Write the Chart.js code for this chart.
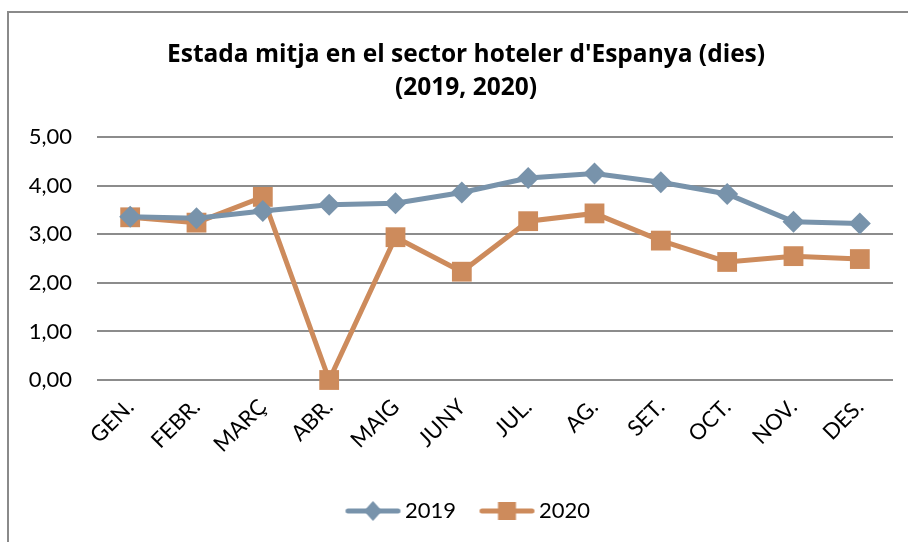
<!DOCTYPE html>
<html>
<head>
<meta charset="utf-8">
<script src="https://cdn.jsdelivr.net/npm/chart.js@4"></script>
<style>
  html, body { margin: 0; padding: 0; background: #fff; }
  #wrap { position: relative; width: 908px; height: 542px; overflow: hidden; }
  #frame { position: absolute; left: 7px; top: 11px; width: 920px; height: 560px;
           border-top: 2px solid #8a8a8a; border-left: 2px solid #8a8a8a; }
  #canvas { position: absolute; left: 0; top: 0; }
</style>
</head>
<body>
<div id="wrap">
  <div id="frame"></div>
  <canvas id="canvas" width="908" height="542"></canvas>
</div>
<script>
// Mesos
const months = ['GEN.', 'FEBR.', 'MARÇ', 'ABR.', 'MAIG', 'JUNY', 'JUL.', 'AG.', 'SET.', 'OCT.', 'NOV.', 'DES.'];
// Estada mitja (dies)
const values2019 = [3.36, 3.33, 3.48, 3.61, 3.64, 3.86, 4.16, 4.25, 4.07, 3.83, 3.26, 3.22];
const values2020 = [3.35, 3.24, 3.77, 0.00, 2.94, 2.23, 3.27, 3.43, 2.87, 2.43, 2.55, 2.49];
const titleLines = ["Estada mitja en el sector hoteler d'Espanya (dies)", '(2019, 2020)'];

const blue = '#7893ab';
const orange = '#cd8b5c';
const font = 'Lato, "Liberation Sans", sans-serif';

// icona de llegenda: línia amb marcador al mig (a la dreta de la imatge, per apropar el text)
function legendIcon(color, shape) {
    const c = document.createElement('canvas');
    c.width = 86; c.height = 24;
    const g = c.getContext('2d');
    const x0 = 29.5;
    g.strokeStyle = color;
    g.lineWidth = 5;
    g.lineCap = 'round';
    g.beginPath(); g.moveTo(x0 + 3, 12); g.lineTo(x0 + 53, 12); g.stroke();
    g.fillStyle = color;
    g.beginPath();
    if (shape === 'diamond') {
        g.moveTo(x0 + 28, 2); g.lineTo(x0 + 37, 12); g.lineTo(x0 + 28, 22); g.lineTo(x0 + 19, 12);
    } else {
        g.rect(x0 + 19, 3, 18, 18);
    }
    g.closePath(); g.fill();
    return c;
}
const icon2019 = legendIcon(blue, 'diamond');
const icon2020 = legendIcon(orange, 'square');

// el títol queda centrat una mica a la dreta, com a l'original
const titleText = titleLines.map(t => '\u00a0\u00a0\u00a0' + t);

const ctx = document.getElementById('canvas').getContext('2d');
new Chart(ctx, {
    type: 'line',
    data: {
        labels: months,
        datasets: [{
            label: '2019',
            data: values2019,
            borderColor: blue,
            backgroundColor: blue,
            borderWidth: 5,
            pointStyle: 'rectRot',
            pointRadius: 11,
            pointHoverRadius: 11,
            pointBorderWidth: 0,
            tension: 0,
            clip: false
        }, {
            label: '2020',
            data: values2020,
            borderColor: orange,
            backgroundColor: orange,
            borderWidth: 5,
            pointStyle: 'rect',
            pointRadius: 14,
            pointHoverRadius: 14,
            pointBorderWidth: 0,
            tension: 0,
            clip: false
        }]
    },
    options: {
        responsive: false,
        animation: false,
        layout: { padding: { left: 20, right: 15, top: 0, bottom: 10 } },
        plugins: {
            title: {
                display: true,
                text: titleText,
                color: '#000',
                font: { family: '"Open Sans", Lato, sans-serif', size: 24.5, weight: 'bold', lineHeight: 1.35 },
                padding: { top: 38, bottom: 33 }
            },
            legend: {
                position: 'bottom',
                labels: {
                    color: '#000',
                    font: { family: font, size: 22 },
                    usePointStyle: true,
                    pointStyleWidth: 71,
                    boxHeight: 24,
                    padding: 1,
                    generateLabels: chart => chart.data.datasets.map((ds, i) => ({
                        text: ds.label,
                        pointStyle: i === 0 ? icon2019 : icon2020,
                        fillStyle: ds.borderColor,
                        strokeStyle: ds.borderColor,
                        lineWidth: 0,
                        fontColor: '#000',
                        datasetIndex: i
                    }))
                }
            },
            tooltip: { enabled: false }
        },
        scales: {
            x: {
                offset: true,
                grid: { display: false },
                border: { display: false },
                ticks: {
                    color: '#000',
                    font: { family: font, size: 22 },
                    minRotation: 45,
                    maxRotation: 45,
                    padding: 6
                },
                afterFit: scale => { scale.height = 119; }
            },
            y: {
                min: 0,
                max: 5,
                grid: { color: '#8c8c8c', lineWidth: 2, drawTicks: false },
                border: { display: false },
                ticks: {
                    stepSize: 1,
                    color: '#000',
                    padding: 25,
                    font: { family: font, size: 22 },
                    callback: v => v.toFixed(2).replace('.', ',')
                },
                afterFit: scale => { scale.width = 77; }
            }
        }
    }
});
</script>
</body>
</html>
